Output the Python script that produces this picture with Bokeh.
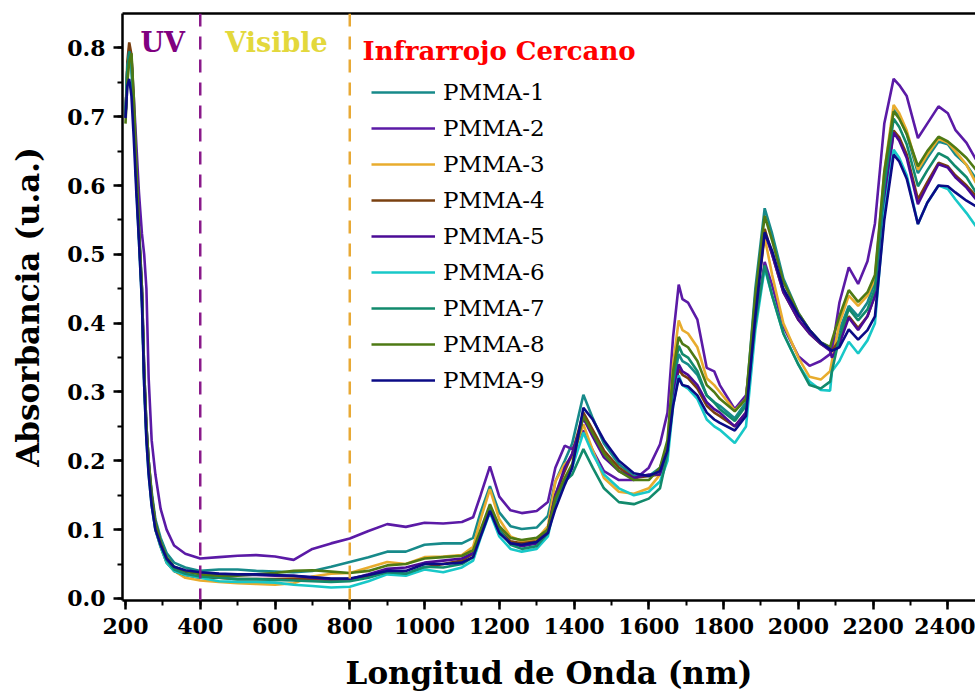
from bokeh.plotting import figure
from bokeh.models import (Range1d, Span, Legend, LegendItem, LinearAxis, SingleIntervalTicker,
                          FixedTicker, Label, NumeralTickFormatter)
from bokeh.embed import file_html
from bokeh.resources import INLINE

# ---------------- data ----------------
wavelength = (
    [200, 205, 210, 216, 222, 229, 236, 244, 250, 256, 262, 270, 280, 294, 310, 330, 360, 400]
    + [450, 500, 550, 600, 650, 700, 750, 800, 850, 900, 950, 1000, 1050, 1100]
    + [1130, 1150, 1175, 1200, 1230, 1260, 1300, 1330, 1350, 1375, 1395, 1425, 1450, 1480, 1520, 1560, 1600]
    + [1630, 1650, 1665, 1680, 1690, 1705, 1730, 1755, 1775, 1790, 1830, 1860, 1885, 1910, 1930, 1960, 2000, 2030, 2060, 2085]
    + [2090, 2110, 2135, 2160, 2185, 2205, 2230, 2255, 2270, 2290, 2320, 2345, 2375, 2400, 2420, 2450, 2475]
)

pmma_1 = [0.70, 0.77, 0.795, 0.78, 0.71, 0.61, 0.54, 0.45, 0.33, 0.25, 0.20, 0.155, 0.115, 0.088, 0.066, 0.052, 0.045, 0.040,
          0.042, 0.042, 0.040, 0.039, 0.038, 0.040, 0.046, 0.053, 0.060, 0.068, 0.068, 0.078, 0.080, 0.080,
          0.088, 0.125, 0.163, 0.125, 0.105, 0.101, 0.103, 0.120, 0.170, 0.200, 0.225, 0.296, 0.262, 0.225, 0.195, 0.178, 0.178,
          0.19, 0.22, 0.31, 0.355, 0.345, 0.340, 0.325, 0.295, 0.285, 0.280, 0.262, 0.285, 0.45, 0.567, 0.53, 0.465, 0.415, 0.39, 0.372, 0.365,
          0.365, 0.39, 0.425, 0.41, 0.43, 0.46, 0.61, 0.71, 0.70, 0.675, 0.618, 0.64, 0.664, 0.66, 0.645, 0.63, 0.61]
pmma_2 = [0.70, 0.76, 0.79, 0.785, 0.73, 0.66, 0.59, 0.53, 0.50, 0.45, 0.32, 0.23, 0.18, 0.13, 0.10, 0.077, 0.065, 0.058,
          0.060, 0.062, 0.063, 0.061, 0.056, 0.072, 0.080, 0.087, 0.098, 0.108, 0.104, 0.110, 0.109, 0.111,
          0.118, 0.150, 0.192, 0.148, 0.128, 0.124, 0.127, 0.140, 0.190, 0.222, 0.217, 0.244, 0.215, 0.185, 0.172, 0.172, 0.190,
          0.224, 0.27, 0.38, 0.456, 0.435, 0.430, 0.405, 0.335, 0.330, 0.310, 0.275, 0.295, 0.40, 0.489, 0.455, 0.395, 0.352, 0.338, 0.345, 0.355,
          0.36, 0.43, 0.481, 0.457, 0.49, 0.545, 0.69, 0.755, 0.746, 0.73, 0.669, 0.69, 0.715, 0.705, 0.681, 0.662, 0.638]
pmma_3 = [0.70, 0.77, 0.80, 0.785, 0.71, 0.61, 0.53, 0.44, 0.32, 0.24, 0.19, 0.145, 0.105, 0.078, 0.055, 0.04, 0.03, 0.026,
          0.024, 0.022, 0.021, 0.020, 0.022, 0.032, 0.036, 0.037, 0.045, 0.053, 0.050, 0.060, 0.061, 0.063,
          0.075, 0.115, 0.159, 0.115, 0.090, 0.083, 0.086, 0.105, 0.170, 0.195, 0.205, 0.253, 0.215, 0.175, 0.155, 0.152, 0.160,
          0.18, 0.22, 0.34, 0.404, 0.39, 0.385, 0.365, 0.32, 0.31, 0.30, 0.273, 0.29, 0.42, 0.525, 0.47, 0.40, 0.35, 0.322, 0.318, 0.33,
          0.345, 0.40, 0.44, 0.425, 0.44, 0.465, 0.62, 0.717, 0.705, 0.68, 0.623, 0.645, 0.668, 0.662, 0.65, 0.63, 0.604]
pmma_4 = [0.70, 0.78, 0.808, 0.79, 0.71, 0.61, 0.53, 0.44, 0.32, 0.24, 0.19, 0.14, 0.10, 0.075, 0.052, 0.04, 0.034, 0.030,
          0.030, 0.028, 0.028, 0.028, 0.029, 0.028, 0.027, 0.028, 0.032, 0.038, 0.035, 0.045, 0.050, 0.055,
          0.065, 0.095, 0.132, 0.100, 0.083, 0.080, 0.083, 0.100, 0.150, 0.185, 0.210, 0.270, 0.245, 0.215, 0.190, 0.175, 0.178,
          0.18, 0.21, 0.29, 0.333, 0.325, 0.32, 0.305, 0.28, 0.27, 0.265, 0.25, 0.27, 0.42, 0.537, 0.50, 0.445, 0.405, 0.385, 0.37, 0.362,
          0.36, 0.375, 0.41, 0.393, 0.41, 0.44, 0.58, 0.68, 0.67, 0.645, 0.58, 0.605, 0.633, 0.628, 0.615, 0.60, 0.585]
pmma_5 = [0.70, 0.77, 0.795, 0.78, 0.71, 0.61, 0.53, 0.45, 0.33, 0.25, 0.20, 0.15, 0.11, 0.08, 0.058, 0.045, 0.039, 0.036,
          0.034, 0.034, 0.034, 0.033, 0.033, 0.030, 0.028, 0.028, 0.035, 0.043, 0.045, 0.052, 0.055, 0.058,
          0.066, 0.095, 0.130, 0.098, 0.080, 0.076, 0.080, 0.100, 0.150, 0.190, 0.210, 0.262, 0.235, 0.205, 0.185, 0.175, 0.180,
          0.18, 0.21, 0.29, 0.340, 0.33, 0.325, 0.31, 0.285, 0.275, 0.27, 0.25, 0.27, 0.42, 0.532, 0.50, 0.445, 0.405, 0.385, 0.37, 0.36,
          0.35, 0.37, 0.408, 0.39, 0.41, 0.44, 0.58, 0.677, 0.665, 0.64, 0.573, 0.60, 0.631, 0.626, 0.612, 0.597, 0.580]
pmma_6 = [0.70, 0.77, 0.79, 0.775, 0.70, 0.60, 0.52, 0.43, 0.31, 0.23, 0.18, 0.135, 0.10, 0.075, 0.052, 0.04, 0.034, 0.030,
          0.025, 0.024, 0.024, 0.023, 0.020, 0.018, 0.016, 0.017, 0.025, 0.035, 0.033, 0.042, 0.038, 0.045,
          0.055, 0.088, 0.125, 0.090, 0.072, 0.068, 0.072, 0.090, 0.140, 0.170, 0.190, 0.241, 0.210, 0.180, 0.160, 0.150, 0.155,
          0.17, 0.20, 0.28, 0.324, 0.31, 0.305, 0.29, 0.26, 0.25, 0.245, 0.226, 0.25, 0.39, 0.48, 0.44, 0.385, 0.34, 0.315, 0.303, 0.302,
          0.33, 0.345, 0.373, 0.356, 0.375, 0.40, 0.56, 0.652, 0.64, 0.615, 0.544, 0.575, 0.60, 0.595, 0.58, 0.56, 0.541]
pmma_7 = [0.70, 0.77, 0.795, 0.78, 0.71, 0.61, 0.53, 0.44, 0.32, 0.24, 0.19, 0.14, 0.105, 0.078, 0.056, 0.042, 0.036, 0.032,
          0.030, 0.028, 0.028, 0.027, 0.026, 0.025, 0.024, 0.025, 0.030, 0.038, 0.036, 0.046, 0.045, 0.050,
          0.060, 0.095, 0.134, 0.100, 0.078, 0.072, 0.076, 0.095, 0.140, 0.170, 0.180, 0.217, 0.190, 0.160, 0.140, 0.137, 0.145,
          0.16, 0.21, 0.32, 0.367, 0.355, 0.35, 0.33, 0.295, 0.285, 0.275, 0.258, 0.28, 0.40, 0.484, 0.44, 0.385, 0.34, 0.31, 0.305, 0.315,
          0.33, 0.38, 0.421, 0.404, 0.42, 0.45, 0.60, 0.697, 0.685, 0.66, 0.599, 0.622, 0.647, 0.640, 0.628, 0.612, 0.590]
pmma_8 = [0.69, 0.75, 0.78, 0.792, 0.73, 0.63, 0.54, 0.45, 0.33, 0.25, 0.20, 0.15, 0.11, 0.082, 0.06, 0.046, 0.04, 0.035,
          0.033, 0.033, 0.035, 0.037, 0.040, 0.041, 0.039, 0.037, 0.040, 0.048, 0.050, 0.058, 0.060, 0.062,
          0.070, 0.100, 0.137, 0.105, 0.088, 0.085, 0.088, 0.100, 0.145, 0.175, 0.195, 0.265, 0.240, 0.210, 0.185, 0.172, 0.172,
          0.19, 0.23, 0.33, 0.380, 0.37, 0.365, 0.345, 0.31, 0.30, 0.29, 0.272, 0.29, 0.44, 0.556, 0.52, 0.46, 0.415, 0.39, 0.372, 0.365,
          0.375, 0.41, 0.448, 0.431, 0.445, 0.47, 0.62, 0.708, 0.697, 0.675, 0.628, 0.65, 0.671, 0.664, 0.655, 0.64, 0.623]
pmma_9 = [0.698, 0.745, 0.755, 0.73, 0.67, 0.59, 0.52, 0.43, 0.31, 0.23, 0.18, 0.135, 0.10, 0.078, 0.058, 0.046, 0.041, 0.038,
          0.036, 0.035, 0.035, 0.034, 0.033, 0.031, 0.029, 0.029, 0.034, 0.040, 0.040, 0.050, 0.050, 0.052,
          0.060, 0.090, 0.127, 0.095, 0.080, 0.078, 0.082, 0.095, 0.130, 0.165, 0.190, 0.277, 0.260, 0.230, 0.200, 0.182, 0.178,
          0.185, 0.215, 0.28, 0.320, 0.31, 0.308, 0.295, 0.27, 0.26, 0.255, 0.244, 0.265, 0.41, 0.532, 0.505, 0.45, 0.412, 0.39, 0.372, 0.362,
          0.36, 0.365, 0.391, 0.376, 0.39, 0.41, 0.55, 0.645, 0.635, 0.61, 0.544, 0.575, 0.600, 0.599, 0.59, 0.578, 0.570]

series_names = ["PMMA-1", "PMMA-2", "PMMA-3", "PMMA-4", "PMMA-5", "PMMA-6", "PMMA-7", "PMMA-8", "PMMA-9"]
series_values = [pmma_1, pmma_2, pmma_3, pmma_4, pmma_5, pmma_6, pmma_7, pmma_8, pmma_9]
series_colors = ["#178a8a", "#5b1aa6", "#e8ac2e", "#7a4010", "#4b0b96",
                 "#18c8c8", "#128a6c", "#4e7a14", "#0b0b86"]

region_bounds = [400, 800]
region_labels = ["UV", "Visible", "Infrarrojo Cercano"]
region_label_x = [240, 467, 834]
region_label_y = [0.808, 0.808, 0.796]
region_label_sizes = ["27px", "27px", "26px"]
region_colors = ["#800080", "#e3d83c", "#ff0000"]
boundary_colors = ["#8a1a8a", "#e8a935"]

# ---------------- figure ----------------
SERIF = "DejaVu Serif"
p = figure(width=975, height=700, output_backend="svg", toolbar_location=None,
           x_range=Range1d(192, 2474), y_range=Range1d(-0.003, 0.85),
           min_border_left=122, min_border_right=0, min_border_top=13, min_border_bottom=100)
p.background_fill_color = "white"
p.border_fill_color = "white"
p.outline_line_color = None
p.grid.visible = False

for ax in (p.xaxis[0], p.yaxis[0]):
    ax.axis_line_width = 2.5
    ax.axis_line_color = "black"
    ax.major_tick_line_width = 2.5
    ax.minor_tick_line_width = 2
    ax.major_tick_in = 0
    ax.major_tick_out = 9
    ax.minor_tick_in = 0
    ax.minor_tick_out = 5
    ax.major_label_text_font = SERIF
    ax.major_label_text_font_style = "bold"
    ax.major_label_text_font_size = "22px"
    ax.major_label_text_color = "black"
    ax.axis_label_text_font = SERIF
    ax.axis_label_text_font_style = "bold"
    ax.axis_label_text_color = "black"
    ax.major_label_standoff = 8

p.xaxis[0].ticker = SingleIntervalTicker(interval=200, num_minor_ticks=2)
p.yaxis[0].ticker = SingleIntervalTicker(interval=0.1, num_minor_ticks=2)
p.yaxis[0].formatter = NumeralTickFormatter(format="0.0")
p.xaxis[0].axis_label = "Longitud de Onda (nm)"
p.yaxis[0].axis_label = "Absorbancia (u.a.)"
p.xaxis[0].axis_label_text_font_size = "31px"
p.yaxis[0].axis_label_text_font_size = "31px"
p.xaxis[0].axis_label_standoff = 18
p.yaxis[0].axis_label_standoff = 18

top_axis = LinearAxis(axis_line_width=2.5, ticker=FixedTicker(ticks=[]),
                      major_tick_line_color=None, minor_tick_line_color=None,
                      major_label_standoff=0)
p.add_layout(top_axis, "above")

for xb, col in zip(region_bounds, boundary_colors):
    p.add_layout(Span(location=xb, dimension="height", line_color=col,
                      line_width=2.5, line_dash="13 10"))

items = []
for name, vals, col in zip(series_names, series_values, series_colors):
    r = p.line(wavelength, vals, line_color=col, line_width=2.6)
    items.append(LegendItem(label=name, renderers=[r]))

for txt, xx, yy, col, fs in zip(region_labels, region_label_x, region_label_y, region_colors, region_label_sizes):
    p.add_layout(Label(x=xx, y=yy, text=txt, text_color=col, text_font=SERIF,
                       text_font_style="bold", text_font_size=fs,
                       text_baseline="alphabetic", text_align="left"))

legend = Legend(items=items, location=(249, 202), border_line_color=None,
                background_fill_alpha=0, padding=0, margin=0, spacing=0,
                glyph_width=64, glyph_height=36, label_height=36, label_standoff=8,
                label_text_font=SERIF, label_text_font_size="23px", label_text_color="black")
p.add_layout(legend, "center")

open("out.html", "w").write(file_html(p, INLINE))
